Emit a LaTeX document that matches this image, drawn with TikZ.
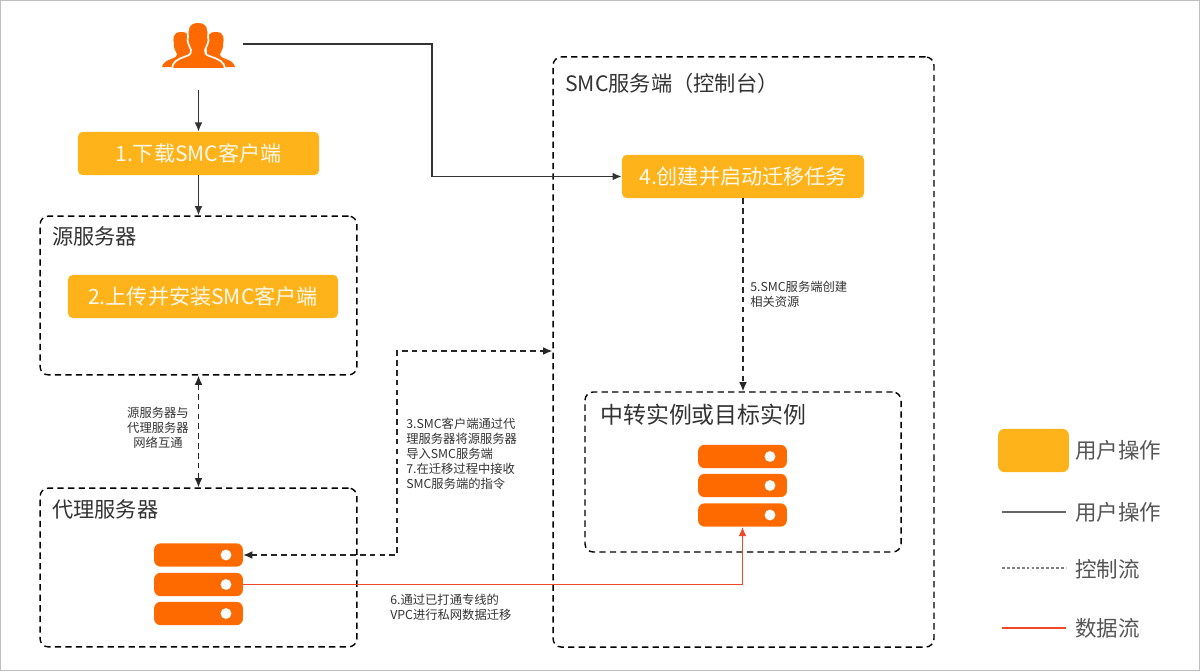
\documentclass[tikz,border=0pt]{standalone}
\usepackage{fontspec}
\setmainfont{Noto Sans CJK SC}
\usetikzlibrary{arrows.meta}
\definecolor{btnyellow}{HTML}{FFB31A}
\definecolor{iconorange}{HTML}{FF6A00}
\definecolor{txtgray}{HTML}{555555}
\definecolor{flowred}{HTML}{F0492A}
\tikzset{
  tip/.tip={Latex[length=6.5pt,width=5.5pt]},
  userflow/.style={draw=black!80, line width=1pt, -tip},
  ctrlflow/.style={draw=black!85, line width=1pt, dash pattern=on 4pt off 3pt},
  dataflow/.style={draw=flowred, line width=1.1pt},
  dashbox/.style={draw=black, line width=1pt, dash pattern=on 4.5pt off 3pt, rounded corners=6pt, inner sep=0pt},
  btnbox/.style={fill=btnyellow, rounded corners=3.5pt, text=white!92!btnyellow, font=\fontsize{15}{18}\selectfont, inner sep=0pt},
  serverbar/.style={fill=iconorange, rounded corners=4.5pt, minimum width=2.22cm, minimum height=0.58cm, inner sep=0pt},
  serverdot/.style={circle, fill=white, minimum size=0.27cm, inner sep=0pt},
  boxtitle/.style={anchor=west, text=black!80, font=\fontsize{15.1}{18}\selectfont, inner sep=0pt},
  smalltext/.style={anchor=west, align=left, text=black!80, font=\fontsize{8.75}{10.6}\selectfont, inner sep=0pt},
  legendtext/.style={anchor=west, text=txtgray, font=\fontsize{15.3}{18}\selectfont, inner sep=0pt}
}
\begin{document}
\begin{tikzpicture}[x=0.025cm, y=-0.025cm]
  \useasboundingbox (0, 0) rectangle (1200, 671);
  \draw [black!25, line width=1pt] (0.5, 0.5) rectangle (1199.5, 670.5);
  % users
  \fill [iconorange] (181, 32) .. controls (172, 32) and (173, 40) .. (174, 44)
    .. controls (173, 47) and (176, 52) .. (177, 54)
    .. controls (177, 60) and (164, 58) .. (162, 67) -- (200, 67) -- (190, 54)
    .. controls (190, 50) and (191, 46) .. (190, 43)
    .. controls (191, 36) and (188, 32) .. (181, 32) -- cycle;
  \fill [iconorange] (216, 32) .. controls (225, 32) and (224, 40) .. (223, 44)
    .. controls (224, 47) and (221, 52) .. (220, 54)
    .. controls (220, 60) and (233, 58) .. (235, 67) -- (197, 67) -- (207, 54)
    .. controls (207, 50) and (206, 46) .. (207, 43)
    .. controls (206, 36) and (209, 32) .. (216, 32) -- cycle;
  \draw [white, line width=1.2pt, fill=iconorange] (198, 22) .. controls (187, 22) and (187, 32) .. (188, 37)
    .. controls (186, 41) and (190, 47) .. (191, 50)
    .. controls (191, 56) and (188, 55) .. (184, 57)
    .. controls (178, 59) and (172, 62) .. (172, 69) -- (225, 69)
    .. controls (225, 62) and (218, 59) .. (212, 57)
    .. controls (208, 55) and (205, 56) .. (205, 50)
    .. controls (206, 47) and (210, 41) .. (208, 37)
    .. controls (209, 32) and (209, 22) .. (198, 22) -- cycle;
  \node (users) [minimum width=1.85cm, minimum height=1.7cm, inner sep=0pt] at (198.5, 55) {};
  % boxes
  \node (srcBox) [dashbox, minimum width=7.92cm, minimum height=3.97cm] at (198.5, 295.5) {};
  \node (proxyBox) [dashbox, minimum width=7.92cm, minimum height=3.97cm] at (198.5, 567.5) {};
  \node (smcBox) [dashbox, minimum width=9.52cm, minimum height=14.75cm] at (743.5, 352) {};
  \node (relayBox) [dashbox, minimum width=7.9cm, minimum height=4cm] at (743, 472) {};
  \node (srcTitle) [boxtitle] at (52, 236) {源服务器};
  \node (proxyTitle) [boxtitle] at (52, 509) {代理服务器};
  \node (smcTitle) [boxtitle] at (565, 83) {SMC服务端（控制台）};
  \node (relayTitle) [boxtitle, font=\fontsize{16.3}{19}\selectfont] at (600, 415) {中转实例或目标实例};
  % buttons
  \node (stepA) [btnbox, minimum width=6.03cm, minimum height=1.08cm] at (198.5, 153.5) {1.下载SMC客户端};
  \node (stepB) [btnbox, minimum width=6.75cm, minimum height=1.08cm] at (203, 296.5) {2.上传并安装SMC客户端};
  \node (stepD) [btnbox, minimum width=6.05cm, minimum height=1.08cm] at (743, 176.5) {4.创建并启动迁移任务};
  % servers
  \foreach \n/\y in {A/555, B/584.5, C/613.5} {
    \node (proxy\n) [serverbar] at (198.5, \y) {};
    \node (proxyDot\n) [serverdot] at (226, \y) {};
  }
  \foreach \n/\y in {A/456.5, B/485.5, C/515} {
    \node (relay\n) [serverbar] at (742.5, \y) {};
    \node (relayDot\n) [serverdot] at (770, \y) {};
  }
  % flows
  \coordinate (userStart) at (243, 44);
  \coordinate (userBend) at (432, 44);
  \coordinate (ctrlBend) at (397, 351);
  \draw [userflow] (users.south) ++(0, 1) -- (stepA.north);
  \draw [userflow] (stepA.south) -- (srcBox.north);
  \draw [userflow] (userStart) -- (userBend) |- (stepD.west);
  \draw [ctrlflow, -tip] (stepD.south) -- (relayBox.north);
  \draw [ctrlflow, tip-tip] (srcBox.south) -- (proxyBox.north);
  \draw [ctrlflow, tip-tip] (proxyA.east) -| (ctrlBend) -- (smcBox.west |- ctrlBend);
  \draw [dataflow, -tip] (proxyB.east) -| (relayC.south);
  % labels
  \node (noteNet) [smalltext, align=center, anchor=center] at (158, 428) {源服务器与\\代理服务器\\网络互通};
  \node (noteCtrl) [smalltext] at (406, 453.5) {3.SMC客户端通过代\\理服务器将源服务器\\导入SMC服务端\\7.在迁移过程中接收\\SMC服务端的指令};
  \node (noteRes) [smalltext] at (750, 294.5) {5.SMC服务端创建\\相关资源};
  \node (noteData) [smalltext] at (390, 607.5) {6.通过已打通专线的\\VPC进行私网数据迁移};
  % legend
  \node (legSwatch) [fill=btnyellow, rounded corners=4.5pt, minimum width=1.77cm, minimum height=1.08cm, inner sep=0pt] at (1033.5, 450.5) {};
  \node (legA) [legendtext] at (1075, 450) {用户操作};
  \node (legB) [legendtext] at (1075, 512) {用户操作};
  \node (legC) [legendtext] at (1075, 569) {控制流};
  \node (legD) [legendtext] at (1075, 628) {数据流};
  \coordinate (legBs) at (1002, 512);
  \coordinate (legBe) at (1066, 512);
  \coordinate (legCs) at (1002, 568);
  \coordinate (legCe) at (1066, 568);
  \coordinate (legDs) at (1002, 628);
  \coordinate (legDe) at (1066, 628);
  \draw [black!60, line width=0.8pt] (legBs) -- (legBe);
  \draw [black!50, line width=0.8pt, dash pattern=on 2pt off 1.5pt] (legCs) -- (legCe);
  \draw [dataflow] (legDs) -- (legDe);
\end{tikzpicture}
\end{document}
